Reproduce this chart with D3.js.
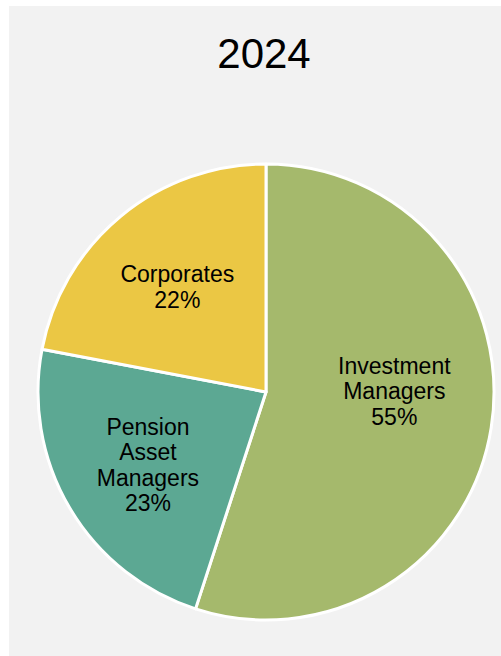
<!DOCTYPE html>
<html>
<head>
<meta charset="utf-8">
<script src="https://cdn.jsdelivr.net/npm/d3@7"></script>
<style>
  body { margin: 0; background: #ffffff; }
  svg { display: block; }
</style>
</head>
<body>
<div id="chart"></div>
<script>
// data
const title = "2024";
const categories = ["Investment Managers", "Pension Asset Managers", "Corporates"];
const labelLines = [["Investment", "Managers"], ["Pension", "Asset", "Managers"], ["Corporates"]];
const values = [55, 23, 22];
const colors = ["#a5b96c", "#5ca893", "#ebc744"];

const width = 501, height = 656;
const cx = 266, cy = 392, radius = 228, labelRadius = 136;
// small label shifts, like excel's "best fit" placement
const labelShift = [[-6, -22], [-1, 4], [-2, 0]];

let svg = d3.select("#chart").append("svg")
  .attr("width", width)
  .attr("height", height);

// grey panel
svg.append("rect")
  .attr("x", 9)
  .attr("y", 6)
  .attr("width", width - 9)
  .attr("height", height - 6)
  .attr("fill", "#f2f2f2");

svg.append("text")
  .attr("x", 264)
  .attr("y", 68)
  .attr("text-anchor", "middle")
  .style("font-family", "Liberation Sans, Arial, sans-serif")
  .style("font-size", "42px")
  .attr("fill", "#000")
  .text(title);

let pie = d3.pie().sort(null).value(d => d)(values);

let arc = d3.arc().innerRadius(0).outerRadius(radius);
let labelArc = d3.arc().innerRadius(labelRadius).outerRadius(labelRadius);

let g = svg.append("g").attr("transform", `translate(${cx},${cy})`);

g.selectAll("path")
  .data(pie)
  .enter()
  .append("path")
  .attr("d", arc)
  .attr("fill", (d, i) => colors[i])
  .attr("stroke", "#ffffff")
  .style("stroke-width", 3)
  .attr("stroke-linejoin", "round");

const lh = 25.5;
let labels = g.selectAll("text.lbl")
  .data(pie)
  .enter()
  .append("text")
  .attr("class", "lbl")
  .attr("text-anchor", "middle")
  .style("font-family", "Liberation Sans, Arial, sans-serif")
  .style("font-size", "23px")
  .attr("fill", "#000")
  .attr("transform", (d, i) => {
    let c = labelArc.centroid(d);
    return `translate(${c[0] + labelShift[i][0]},${c[1] + labelShift[i][1]})`;
  });

labels.each(function (d, i) {
  let lines = labelLines[i].concat([values[i] + "%"]);
  let start = -(lines.length - 1) / 2 * lh + 8;
  d3.select(this).selectAll("tspan")
    .data(lines)
    .enter()
    .append("tspan")
    .attr("x", 0)
    .attr("y", (t, k) => start + k * lh)
    .text(t => t);
});
</script>
</body>
</html>
